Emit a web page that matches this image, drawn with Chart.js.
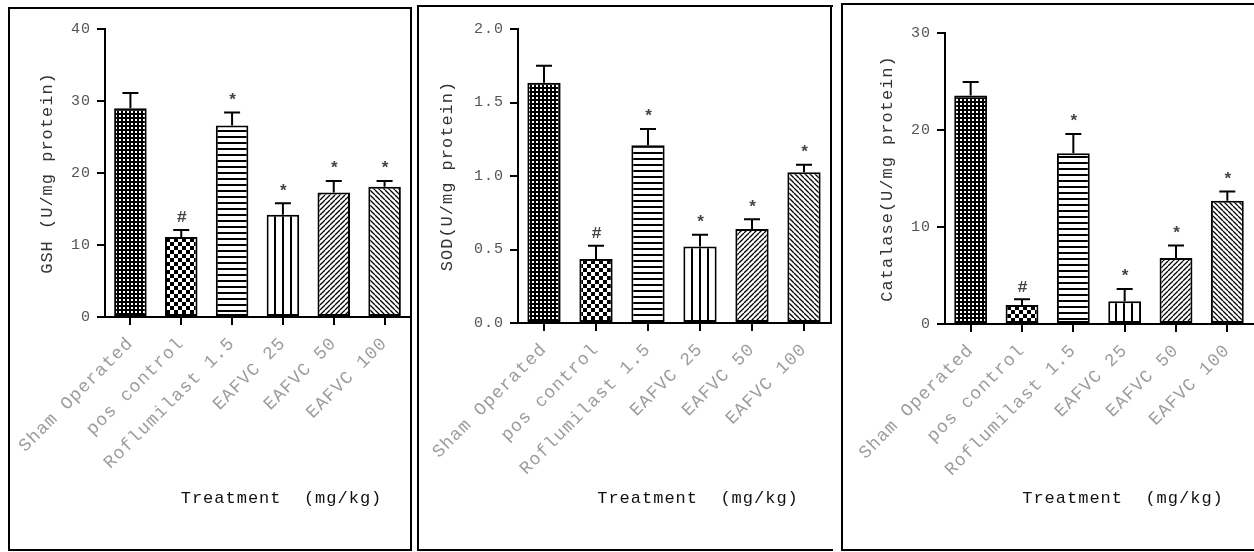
<!DOCTYPE html>
<html>
<head>
<meta charset="utf-8">
<script src="https://cdn.jsdelivr.net/npm/chart.js@4.4.0/dist/chart.umd.min.js"></script>
<style>
  body { margin: 0; background: #fff; width: 1254px; height: 552px; overflow: hidden; position: relative; }
  .box { position: absolute; border: 2px solid #000; box-sizing: border-box; }
  .vline { position: absolute; width: 2px; background: #000; }
  canvas { position: absolute; }
</style>
</head>
<body>
<div class="box" style="left:8px;top:7px;width:404px;height:544px"></div>
<div class="box" style="left:417px;top:5px;width:416px;height:546px;border-right:none"></div>
<div class="vline" style="left:830px;top:5px;height:319px"></div>
<div class="box" style="left:841px;top:3px;width:420px;height:548px"></div>

<canvas id="gsh" width="400" height="538" style="left:10px;top:10px"></canvas>
<canvas id="sod" width="411" height="540" style="left:419px;top:8px"></canvas>
<canvas id="cat" width="411" height="542" style="left:843px;top:6px"></canvas>

<script>
/* ── data ─────────────────────────────────────────────────────── */
const categories = ['Sham Operated', 'pos control', 'Roflumilast 1.5', 'EAFVC 25', 'EAFVC 50', 'EAFVC 100'];
const signif     = ['', '#', '*', '*', '*', '*'];

const gshMean = [29.0, 11.1, 26.6, 14.2, 17.3, 18.1];
const gshErr  = [2.1, 1.0, 1.8, 1.6, 1.6, 0.8];

const sodMean = [1.635, 0.435, 1.21, 0.52, 0.64, 1.025];
const sodErr  = [0.115, 0.09, 0.11, 0.08, 0.065, 0.052];

const catMean = [23.55, 1.95, 17.6, 2.35, 6.8, 12.7];
const catErr  = [1.4, 0.6, 2.0, 1.25, 1.3, 0.95];

const FILLS = ['dots', 'checker', 'hlines', 'vlines', 'diagUp', 'diagDown'];
const MONO = "'Liberation Mono', 'DejaVu Sans Mono', monospace";

/* ── fill patterns ────────────────────────────────────────────── */
function makePattern(ctx, kind) {
  const c = document.createElement('canvas');
  const g = c.getContext('2d');
  const size = { dots: [4, 4], checker: [8, 8], hlines: [6, 6], vlines: [8, 8], diagUp: [5, 5], diagDown: [5, 5] }[kind];
  c.width = size[0]; c.height = size[1];
  g.fillStyle = '#fff';
  g.fillRect(0, 0, c.width, c.height);
  g.fillStyle = '#000';
  g.strokeStyle = '#000';
  if (kind === 'dots') {
    g.fillRect(0, 0, 4, 4);
    g.fillStyle = '#fff';
    g.fillRect(1, 1, 2, 2);
  } else if (kind === 'checker') {
    g.fillRect(0, 0, 4, 4);
    g.fillRect(4, 4, 4, 4);
  } else if (kind === 'hlines') {
    g.fillRect(0, 0, 6, 2);
  } else if (kind === 'vlines') {
    g.fillRect(0, 0, 2, 8);
  } else {
    g.lineWidth = 1.3;
    const s = 5;
    g.beginPath();
    for (const o of [-s, 0, s]) {
      if (kind === 'diagUp') { g.moveTo(o, s); g.lineTo(o + s, 0); }
      else { g.moveTo(o, 0); g.lineTo(o + s, s); }
    }
    g.stroke();
  }
  return ctx.createPattern(c, 'repeat');
}

/* ── plugins ──────────────────────────────────────────────────── */
const spacing = {
  id: 'spacing',
  beforeUpdate(chart) { chart.ctx.letterSpacing = '1px'; },
  beforeDraw(chart) { chart.ctx.letterSpacing = '1px'; },
};

// upper error bar (mean + SEM) with significance mark above it
const errorBars = {
  id: 'errorBars',
  afterDatasetsDraw(chart) {
    const { ctx } = chart;
    const ds = chart.data.datasets[0];
    const y = chart.scales.y;
    const meta = chart.getDatasetMeta(0);
    ctx.save();
    ctx.strokeStyle = '#000';
    ctx.lineWidth = 2;
    meta.data.forEach((bar, i) => {
      const top = y.getPixelForValue(ds.data[i] + ds.err[i]);
      ctx.beginPath();
      ctx.moveTo(bar.x, bar.y);
      ctx.lineTo(bar.x, top);
      ctx.moveTo(bar.x - 8, top);
      ctx.lineTo(bar.x + 8, top);
      ctx.stroke();
      if (ds.marks[i]) {
        ctx.fillStyle = '#444';
        ctx.font = 'bold 17px ' + MONO;
        ctx.textAlign = 'center';
        ctx.textBaseline = 'middle';
        ctx.fillText(ds.marks[i], bar.x + 1, top - 12);
      }
    });
    ctx.restore();
  },
};

const xTitle = {
  id: 'xTitle',
  afterDraw(chart, args, opts) {
    const { ctx, chartArea } = chart;
    ctx.save();
    ctx.fillStyle = '#111';
    ctx.font = '17px ' + MONO;
    ctx.textAlign = 'center';
    ctx.textBaseline = 'middle';
    ctx.fillText(opts.text, (chartArea.left + chartArea.right) / 2 + 24, chart.height - 50);
    ctx.restore();
  },
};

/* ── chart builder ────────────────────────────────────────────── */
function buildChart(id, cfg) {
  const canvas = document.getElementById(id);
  const ctx = canvas.getContext('2d');
  const fills = FILLS.map(k => makePattern(ctx, k));
  return new Chart(canvas, {
    type: 'bar',
    data: {
      labels: categories,
      datasets: [{
        data: cfg.mean,
        err: cfg.err,
        marks: signif,
        backgroundColor: fills,
        borderColor: '#000',
        borderWidth: 2,
        borderSkipped: false,
        barPercentage: 0.64,
        categoryPercentage: 1,
      }],
    },
    options: {
      responsive: false,
      animation: false,
      devicePixelRatio: 1,
      layout: { padding: { left: 0, right: cfg.padRight, top: cfg.padTop, bottom: 0 } },
      plugins: {
        legend: { display: false },
        tooltip: { enabled: false },
        xTitle: { text: 'Treatment  (mg/kg)' },
      },
      scales: {
        x: {
          grid: { drawOnChartArea: false, offset: false, tickLength: 8, color: '#000', lineWidth: 2 },
          border: { color: '#000', width: 2 },
          ticks: { minRotation: 45, maxRotation: 45, autoSkip: false, padding: 8, color: '#9c9c9c', font: { family: MONO, size: 18 } },
          afterFit(s) { s.height = cfg.xH; s.paddingLeft = 0; s.paddingRight = 0; },
        },
        y: {
          min: 0,
          max: cfg.max,
          ticks: {
            stepSize: cfg.step, padding: 6, color: '#555', font: { family: MONO, size: 15 },
            callback: v => cfg.decimals ? v.toFixed(cfg.decimals) : v,
          },
          grid: { drawOnChartArea: false, tickLength: 8, color: '#000', lineWidth: 2 },
          border: { color: '#000', width: 2 },
          title: { display: true, text: cfg.yTitle, color: '#333', font: { family: MONO, size: 17 }, padding: { top: cfg.yTitlePad, bottom: 0 } },
          afterFit(s) { s.width = cfg.yW; },
        },
      },
    },
    plugins: [spacing, errorBars, xTitle],
  });
}

buildChart('gsh', { mean: gshMean, err: gshErr, max: 40, step: 10, decimals: 0,
  yTitle: 'GSH (U/mg protein)', yW: 95, padTop: 19, padRight: 0, xH: 231, yTitlePad: 27 });
buildChart('sod', { mean: sodMean, err: sodErr, max: 2, step: 0.5, decimals: 1,
  yTitle: 'SOD(U/mg protein)', yW: 99, padTop: 21, padRight: 0, xH: 225, yTitlePad: 18 });
buildChart('cat', { mean: catMean, err: catErr, max: 30, step: 10, decimals: 0,
  yTitle: 'Catalase(U/mg protein)', yW: 102, padTop: 27, padRight: 1, xH: 224, yTitlePad: 34 });
</script>
</body>
</html>
